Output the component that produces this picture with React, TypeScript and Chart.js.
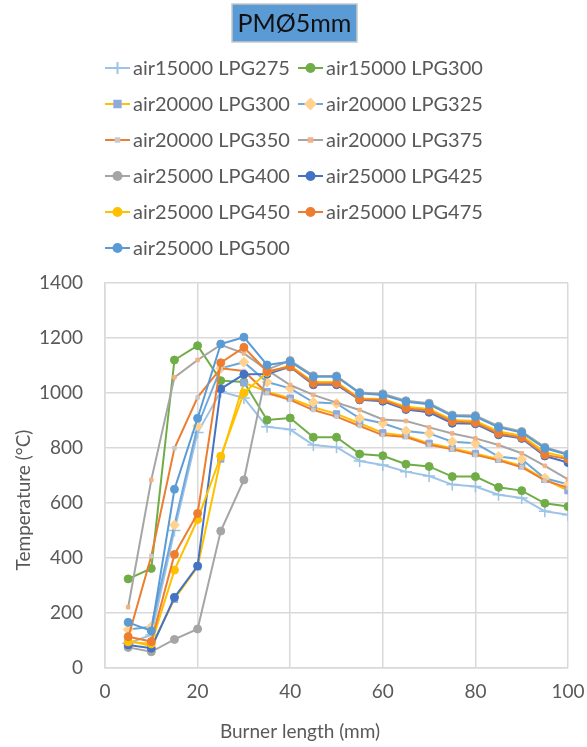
import React, { useEffect, useRef } from 'react';
import { Chart, registerables } from 'chart.js';
import { drawPoint } from 'chart.js/helpers';

Chart.register(...registerables);

const chartTitle = 'PMØ5mm';
const xAxisTitle = 'Burner length (mm)';
const yAxisTitle = 'Temperature (°C)';

const burnerLength = [5, 10, 15, 20, 25, 30, 35, 40, 45, 50, 55, 60, 65, 70, 75, 80, 85, 90, 95, 100];

const air15000_LPG275 = [90, 120, 500, 856, 1005, 982, 877, 867, 811, 803, 753, 738, 714, 698, 667, 660, 630, 618, 570, 557];
const air15000_LPG300 = [324, 362, 1120, 1172, 1045, 1040, 902, 909, 839, 839, 778, 772, 741, 733, 696, 696, 657, 645, 599, 587];
const air20000_LPG300 = [100, 80, 250, 368, 760, 1037, 1005, 981, 948, 924, 890, 855, 845, 817, 799, 780, 759, 735, 686, 645];
const air20000_LPG325 = [140, 150, 520, 880, 1090, 1112, 1040, 1017, 966, 962, 908, 890, 862, 853, 823, 817, 769, 759, 690, 668];
const air20000_LPG350 = [110, 407, 799, 984, 1090, 1080, 1000, 975, 938, 914, 880, 847, 840, 812, 795, 775, 755, 730, 682, 655];
const air20000_LPG375 = [221, 684, 1057, 1120, 1175, 1144, 1084, 1029, 993, 965, 938, 904, 898, 875, 853, 835, 811, 781, 735, 686];
const air25000_LPG400 = [75, 59, 104, 142, 498, 684, 1085, 1118, 1063, 1062, 1002, 997, 972, 963, 920, 918, 879, 860, 803, 778];
const air25000_LPG425 = [84, 72, 257, 371, 1015, 1068, 1069, 1095, 1030, 1030, 975, 970, 940, 930, 890, 888, 848, 835, 771, 747];
const air25000_LPG450 = [95, 88, 356, 540, 770, 1000, 1075, 1100, 1040, 1040, 980, 978, 950, 942, 902, 898, 860, 845, 785, 765];
const air25000_LPG475 = [114, 96, 413, 562, 1110, 1166, 1078, 1096, 1035, 1035, 977, 975, 944, 936, 896, 892, 853, 838, 775, 760];
const air25000_LPG500 = [166, 135, 650, 908, 1178, 1203, 1102, 1114, 1059, 1059, 999, 993, 968, 959, 916, 914, 875, 856, 799, 775];

const seriesLabels = [
  'air15000 LPG275', 'air15000 LPG300', 'air20000 LPG300', 'air20000 LPG325',
  'air20000 LPG350', 'air20000 LPG375', 'air25000 LPG400', 'air25000 LPG425',
  'air25000 LPG450', 'air25000 LPG475', 'air25000 LPG500',
];
const seriesValues = [
  air15000_LPG275, air15000_LPG300, air20000_LPG300, air20000_LPG325,
  air20000_LPG350, air20000_LPG375, air25000_LPG400, air25000_LPG425,
  air25000_LPG450, air25000_LPG475, air25000_LPG500,
];

// styles: line colour, marker fill, marker style, marker radius
const seriesStyles = [
  { line: '#9dc3e6', marker: '#9dc3e6', style: 'cross', r: 6, bw: 1.5 },
  { line: '#70ad47', marker: '#70ad47', style: 'circle', r: 4, bw: 1 },
  { line: '#ffc000', marker: '#8faadc', style: 'rect', r: 4.5, bw: 1 },
  { line: '#6fa8dc', marker: '#ffd28f', style: 'rectRot', r: 5, bw: 1 },
  { line: '#ed7d31', marker: '#c9c9c9', style: 'rect', r: 2.5, bw: 1 },
  { line: '#a5a5a5', marker: '#f4b183', style: 'rect', r: 2.5, bw: 1 },
  { line: '#a5a5a5', marker: '#a5a5a5', style: 'circle', r: 4, bw: 1 },
  { line: '#4472c4', marker: '#4472c4', style: 'circle', r: 4, bw: 1 },
  { line: '#ffc000', marker: '#ffc000', style: 'circle', r: 4, bw: 1 },
  { line: '#ed7d31', marker: '#ed7d31', style: 'circle', r: 4, bw: 1 },
  { line: '#5b9bd5', marker: '#5b9bd5', style: 'circle', r: 4, bw: 1 },
];

const FONT = 'Lato';
const TEXT = '#595959';

const overlayPlugin = {
  id: 'overlay',
  afterDraw(chart: any) {
    const ctx = chart.ctx as CanvasRenderingContext2D;
    ctx.save();
    // title box
    ctx.fillStyle = '#5b9bd5';
    ctx.fillRect(232, 4, 125, 38);
    ctx.strokeStyle = '#c8c8c8';
    ctx.lineWidth = 1.5;
    ctx.strokeRect(232, 4, 125, 38);
    ctx.fillStyle = '#111';
    ctx.font = `25px ${FONT}`;
    ctx.textAlign = 'center';
    ctx.textBaseline = 'middle';
    ctx.fillText(chartTitle, 294.5, 24);

    // legend
    ctx.font = `20px ${FONT}`;
    ctx.textAlign = 'left';
    chart.data.datasets.forEach((ds: any, i: number) => {
      const st = seriesStyles[i];
      const col = i % 2;
      const row = Math.floor(i / 2);
      const x0 = col === 0 ? 105 : 298;
      const y = 68 + row * 36;
      ctx.strokeStyle = st.line;
      ctx.lineWidth = 2;
      ctx.beginPath();
      ctx.moveTo(x0, y);
      ctx.lineTo(x0 + 25, y);
      ctx.stroke();
      ctx.fillStyle = st.marker;
      ctx.strokeStyle = st.marker;
      drawPoint(ctx, { pointStyle: st.style, radius: st.r, rotation: 0, borderWidth: st.bw }, x0 + 12.5, y);
      ctx.fillStyle = TEXT;
      ctx.fillText(ds.label, x0 + 28, y + 1);
    });

    // axis titles
    ctx.fillStyle = TEXT;
    ctx.font = `19px ${FONT}`;
    ctx.textAlign = 'center';
    ctx.fillText(xAxisTitle, 300, 732);
    ctx.translate(24, 500);
    ctx.rotate(-Math.PI / 2);
    ctx.fillText(yAxisTitle, 0, 0);
    ctx.restore();
  },
};

export default function App() {
  const ref = useRef<HTMLCanvasElement>(null);
  useEffect(() => {
    if (!ref.current) return;
    const datasets = seriesValues.map((vals, i) => {
      const st = seriesStyles[i];
      return {
        label: seriesLabels[i],
        data: vals.map((v, j) => ({ x: burnerLength[j], y: v })),
        borderColor: st.line,
        backgroundColor: st.marker,
        borderWidth: 2,
        pointStyle: st.style,
        pointRadius: st.r,
        pointBorderWidth: st.bw,
        pointBackgroundColor: st.marker,
        pointBorderColor: st.marker,
        tension: 0,
        order: seriesValues.length - i,
      };
    });
    const chart = new Chart(ref.current, {
      type: 'line',
      data: { datasets },
      options: {
        responsive: false,
        animation: false,
        devicePixelRatio: 1,
        layout: { padding: { top: 283, left: 0, right: 19, bottom: 0 } },
        plugins: { legend: { display: false }, tooltip: { enabled: false }, title: { display: false } },
        scales: {
          x: {
            type: 'linear',
            min: 0,
            max: 100,
            ticks: { stepSize: 20, color: TEXT, font: { family: FONT, size: 19 }, padding: 12, callback: (v: any) => String(v) },
            grid: { color: '#d9d9d9', lineWidth: 1.5, drawTicks: false },
            border: { color: '#d9d9d9', width: 1.5 },
            afterFit: (s: any) => { s.height = 79; s.paddingLeft = 0; s.paddingRight = 0; },
          },
          y: {
            min: 0,
            max: 1400,
            ticks: { stepSize: 200, color: TEXT, font: { family: FONT, size: 19 }, padding: 22, callback: (v: any) => String(v) },
            grid: { color: '#d9d9d9', lineWidth: 1.5, drawTicks: false },
            border: { color: '#d9d9d9', width: 1.5 },
            afterFit: (s: any) => { s.width = 105; s.paddingTop = 0; s.paddingBottom = 0; },
          },
        },
      },
      plugins: [overlayPlugin],
    });
    return () => chart.destroy();
  }, []);
  return (
    <div style={{ position: 'absolute', left: 0, top: 0, width: 587, height: 747, background: '#fff' }}>
      <canvas ref={ref} width={587} height={747} style={{ display: 'block' }} />
    </div>
  );
}
